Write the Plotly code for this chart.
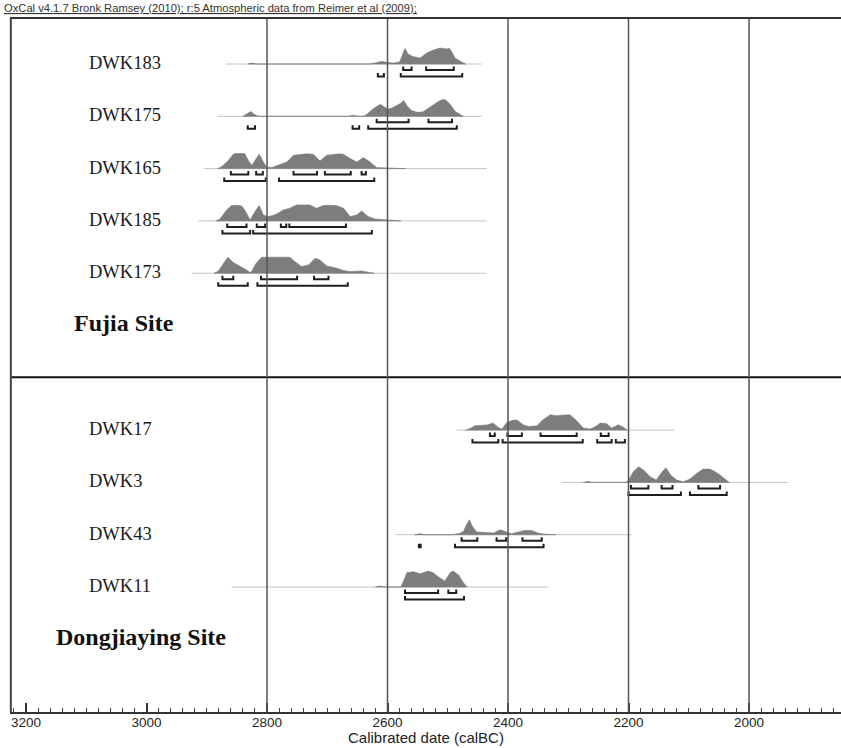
import plotly.graph_objects as go

# ---------------- data ----------------
header = "OxCal v4.1.7 Bronk Ramsey (2010); r:5 Atmospheric data from Reimer et al (2009);"
x_title = "Calibrated date (calBC)"
sites = ["Fujia Site", "Dongjiaying Site"]
site_samples = [["DWK183", "DWK175", "DWK165", "DWK185", "DWK173"],
                ["DWK17", "DWK3", "DWK43", "DWK11"]]
grid_years = [2800, 2600, 2400, 2200, 2000]

# calibrated probability (relative) : year BC, probability
dwk183_year = [2832, 2825, 2818, 2630, 2617, 2610, 2600, 2590, 2580, 2575, 2571, 2566, 2558, 2546,
               2535, 2524, 2513, 2502, 2498, 2493, 2488, 2476, 2470]
dwk183_prob = [0, 1, 0, 0, 1.5, 2.7, 1.5, 1, 2, 10, 15.5, 10, 7.5, 6,
               11, 14, 16, 15, 16, 12, 6, 1.7, 0]
dwk183_span = [2868, 2444]
dwk183_1s = [(2574, 2560), (2536, 2490)]
dwk183_2s = [(2616, 2606), (2578, 2476)]

dwk175_year = [2840, 2833, 2827, 2821, 2815, 2665, 2657, 2649, 2640, 2634, 2625, 2612, 2605, 2599,
               2592, 2585, 2578, 2573, 2567, 2560, 2551, 2541, 2535, 2524, 2515, 2509, 2504, 2496,
               2488, 2480, 2474]
dwk175_prob = [0, 2.5, 4.7, 2, 0, 0, 1, 0, 0, 2, 7, 12, 9, 7,
               8.5, 10.7, 13, 15.7, 10, 5.7, 4, 4.5, 7, 12, 15, 16.7, 16.5, 12,
               5, 2, 0]
dwk175_span = [2883, 2444]
dwk175_1s = [(2618, 2565), (2532, 2493)]
dwk175_2s = [(2832, 2820), (2658, 2647), (2632, 2485)]

dwk165_year = [2882, 2875, 2864, 2856, 2853, 2845, 2837, 2831, 2825, 2819, 2813, 2806, 2801, 2792,
               2785, 2778, 2767, 2756, 2745, 2734, 2723, 2712, 2701, 2690, 2680, 2673, 2662, 2651,
               2640, 2629, 2618, 2600, 2576, 2570]
dwk165_prob = [0, 2, 8.3, 14.3, 15, 15.3, 15, 8, 3.3, 9, 14.3, 6.7, 1.7, 1,
               2.5, 4.3, 6.7, 13.3, 14.3, 14.8, 14.3, 7.7, 13.3, 14.3, 14.8, 14.3, 10, 6.7,
               11, 6.7, 1, 0.6, 0.4, 0]
dwk165_span = [2905, 2435]
dwk165_1s = [(2860, 2831), (2818, 2807), (2756, 2717), (2704, 2661), (2643, 2636)]
dwk165_2s = [(2871, 2802), (2780, 2622)]

dwk185_year = [2885, 2878, 2867, 2859, 2850, 2842, 2837, 2828, 2820, 2813, 2806, 2799, 2790, 2784,
               2773, 2762, 2751, 2740, 2729, 2718, 2707, 2696, 2685, 2673, 2662, 2651, 2643, 2632,
               2621, 2600, 2585, 2578]
dwk185_prob = [0, 2, 11, 15.3, 15.7, 15, 11, 1, 9.3, 15.3, 6, 4.3, 5.5, 7,
               11, 12.7, 16, 16.3, 16, 12.7, 15.3, 15.7, 15.3, 12.7, 4.3, 6, 10, 4.3,
               2, 1, 0.7, 0]
dwk185_span = [2914, 2435]
dwk185_1s = [(2866, 2834), (2817, 2803), (2777, 2768), (2763, 2669)]
dwk185_2s = [(2874, 2828), (2823, 2626)]

dwk173_year = [2888, 2881, 2872, 2865, 2856, 2845, 2834, 2827, 2818, 2809, 2801, 2785, 2770, 2762,
               2754, 2743, 2731, 2720, 2712, 2701, 2684, 2673, 2662, 2650, 2643, 2632, 2622]
dwk173_prob = [0, 2, 10, 16, 10.7, 7.3, 3.3, 0.5, 10, 16, 16, 16.3, 16.5, 16,
               11.7, 6.7, 8.3, 15, 13.3, 7.3, 5, 2.7, 1.7, 2, 2.3, 1, 0]
dwk173_span = [2925, 2435]
dwk173_1s = [(2874, 2856), (2810, 2750), (2722, 2698)]
dwk173_2s = [(2881, 2832), (2816, 2666)]

dwk17_year = [2470, 2463, 2455, 2446, 2435, 2425, 2416, 2410, 2402, 2391, 2385, 2374, 2366, 2352,
              2344, 2330, 2319, 2308, 2297, 2286, 2275, 2264, 2256, 2247, 2237, 2228, 2217, 2208,
              2202]
dwk17_prob = [0, 1.5, 4.3, 5, 5.2, 7, 2.7, 1, 7.7, 10, 10, 5, 3.7, 4.3,
              9.3, 15.3, 14.3, 15, 15.3, 9.3, 2, 1, 3, 7, 6.7, 2, 5.3, 2.7,
              0]
dwk17_span = [2485, 2124]
dwk17_1s = [(2430, 2422), (2401, 2377), (2346, 2286), (2246, 2233)]
dwk17_2s = [(2459, 2416), (2409, 2276), (2252, 2228), (2221, 2206)]

dwk3_year = [2275, 2267, 2259, 2205, 2200, 2192, 2183, 2175, 2164, 2154, 2145, 2138, 2130, 2120,
             2109, 2098, 2087, 2076, 2065, 2056, 2048, 2040, 2033]
dwk3_prob = [0, 1, 0, 0, 2, 10.7, 15.7, 12.3, 5.7, 2.3, 10, 14.7, 7.3, 2.3,
             0.7, 3.3, 9, 13.3, 13.3, 10.7, 7.3, 3.3, 0]
dwk3_span = [2311, 1935]
dwk3_1s = [(2196, 2167), (2145, 2127), (2084, 2048)]
dwk3_2s = [(2200, 2113), (2098, 2037)]

dwk43_year = [2555, 2546, 2537, 2492, 2480, 2474, 2469, 2464, 2459, 2452, 2436, 2424, 2413, 2405,
              2394, 2383, 2372, 2361, 2350, 2341, 2320]
dwk43_prob = [0, 1, 0, 0, 1.5, 3.3, 10, 15, 8.3, 2.7, 2.3, 1.7, 5, 3.3,
              1, 2.7, 4.3, 4.3, 1.7, 0.7, 0]
dwk43_span = [2587, 2195]
dwk43_1s = [(2477, 2451), (2419, 2403), (2376, 2344)]
dwk43_2s = [(2548, 2545), (2488, 2341)]

dwk11_year = [2620, 2612, 2604, 2578, 2574, 2568, 2557, 2546, 2532, 2524, 2516, 2505, 2496, 2491,
              2482, 2474, 2468]
dwk11_prob = [0, 1, 0, 0, 5, 14.3, 15.3, 13.3, 16, 14.3, 10.3, 6, 14.3, 16,
              12, 4.3, 0]
dwk11_span = [2859, 2333]
dwk11_1s = [(2571, 2516), (2499, 2486)]
dwk11_2s = [(2571, 2473)]

samples = {
    "DWK183": (dwk183_year, dwk183_prob, dwk183_span, dwk183_1s, dwk183_2s),
    "DWK175": (dwk175_year, dwk175_prob, dwk175_span, dwk175_1s, dwk175_2s),
    "DWK165": (dwk165_year, dwk165_prob, dwk165_span, dwk165_1s, dwk165_2s),
    "DWK185": (dwk185_year, dwk185_prob, dwk185_span, dwk185_1s, dwk185_2s),
    "DWK173": (dwk173_year, dwk173_prob, dwk173_span, dwk173_1s, dwk173_2s),
    "DWK17": (dwk17_year, dwk17_prob, dwk17_span, dwk17_1s, dwk17_2s),
    "DWK3": (dwk3_year, dwk3_prob, dwk3_span, dwk3_1s, dwk3_2s),
    "DWK43": (dwk43_year, dwk43_prob, dwk43_span, dwk43_1s, dwk43_2s),
    "DWK11": (dwk11_year, dwk11_prob, dwk11_span, dwk11_1s, dwk11_2s),
}

# ---------------- style ----------------
W, H = 841, 748
ML, MR, MT, MB = 10, 0, 18, 36
ROW_PX = 52.3
plot_w = W - ML - MR
plot_h = H - MT - MB
y_top = -0.88
y_bot = y_top + plot_h / ROW_PX
PX = 1.0 / ROW_PX           # one pixel in row units
PROB_SCALE = PX             # probability units drawn as pixels
S1_OFF, S2_OFF, TICK_UP = 6 * PX, 12.5 * PX, 3.5 * PX

FILL = "#7d7d7d"
BASE = "#c4c4c4"
BRACKET = "#1e1e1e"
SERIF = "Liberation Serif, Times New Roman, serif"
SANS = "Liberation Sans, Arial, sans-serif"

fig = go.Figure()
annotations = []
shapes = []


def bracket_path(ranges, y):
    xs, ys = [], []
    for a, b in ranges:
        xs += [a, a, b, b, None]
        ys += [y - TICK_UP, y, y, y - TICK_UP, None]
    return xs, ys


row = 0
for si, site in enumerate(sites):
    for name in site_samples[si]:
        yr, pr, span, s1, s2 = samples[name]
        # likelihood range line
        fig.add_trace(go.Scatter(x=span, y=[row, row], mode="lines",
                                 line=dict(color=BASE, width=1), hoverinfo="skip"))
        # probability distribution
        fig.add_trace(go.Scatter(x=list(yr) + [yr[-1], yr[0]],
                                 y=[row - p * PROB_SCALE for p in pr] + [row, row],
                                 mode="lines", fill="toself", fillcolor=FILL,
                                 line=dict(color=FILL, width=0.6), hoverinfo="skip"))
        for rng, off in ((s1, S1_OFF), (s2, S2_OFF)):
            bx, by = bracket_path(rng, row + off)
            fig.add_trace(go.Scatter(x=bx, y=by, mode="lines",
                                     line=dict(color=BRACKET, width=2), hoverinfo="skip"))
        annotations.append(dict(x=(87 - ML) / plot_w, xref="paper", y=row - 0.02, yref="y",
                                text=name, showarrow=False, xanchor="left", yanchor="middle",
                                font=dict(family=SERIF, size=18.5, color="#1a1a1a")))
        row += 1
    # site label
    lx = [72, 54][si]
    annotations.append(dict(x=(lx - ML) / plot_w, xref="paper", y=row - 0.04, yref="y",
                            text="<b>%s</b>" % site, showarrow=False, xanchor="left",
                            yanchor="middle", font=dict(family=SERIF, size=24, color="#111")))
    row += 1
    if si < len(sites) - 1:
        shapes.append(dict(type="line", xref="paper", x0=0, x1=1, yref="y", y0=row - 0.01,
                           y1=row - 0.01, line=dict(color="#111", width=2), layer="above"))
        row += 1

for g in grid_years:
    shapes.append(dict(type="line", xref="x", x0=g, x1=g, yref="paper", y0=0, y1=1,
                       line=dict(color="#555", width=1.5), layer="above"))
# frame: top and left
shapes.append(dict(type="line", xref="paper", x0=0, x1=1, yref="paper", y0=1, y1=1,
                   line=dict(color="#333", width=2), layer="above"))
shapes.append(dict(type="line", xref="paper", x0=0.001, x1=0.001, yref="paper", y0=0, y1=1,
                   line=dict(color="#444", width=2), layer="above"))

annotations.append(dict(x=(2 - ML) / plot_w, xref="paper", y=1 + (MT - 8) / plot_h,
                        yref="paper", text="<u>%s</u>" % header, showarrow=False,
                        xanchor="left", yanchor="middle",
                        font=dict(family=SANS, size=11.2, color="#333")))
annotations.append(dict(x=0.5, xref="paper", y=-MB / plot_h, yref="paper",
                        text=x_title, showarrow=False, xanchor="center", yanchor="bottom",
                        font=dict(family=SANS, size=15, color="#222")))

fig.update_layout(
    width=W, height=H, margin=dict(l=ML, r=MR, t=MT, b=MB),
    paper_bgcolor="white", plot_bgcolor="white", showlegend=False,
    xaxis=dict(range=[3226.6, 1847.3], showgrid=False, zeroline=False,
               showline=True, linecolor="#333", linewidth=2,
               tickmode="linear", tick0=2000, dtick=200,
               ticks="inside", ticklen=9, tickwidth=1.5, tickcolor="#333",
               ticklabelstandoff=-3,
               minor=dict(tickmode="linear", tick0=2000, dtick=20, ticks="inside",
                          ticklen=4, tickwidth=1, tickcolor="#444"),
               tickfont=dict(family=SANS, size=13.5, color="#222")),
    yaxis=dict(range=[y_bot, y_top], visible=False, showgrid=False, zeroline=False),
    shapes=shapes, annotations=annotations,
)

fig.write_html("out.html")
